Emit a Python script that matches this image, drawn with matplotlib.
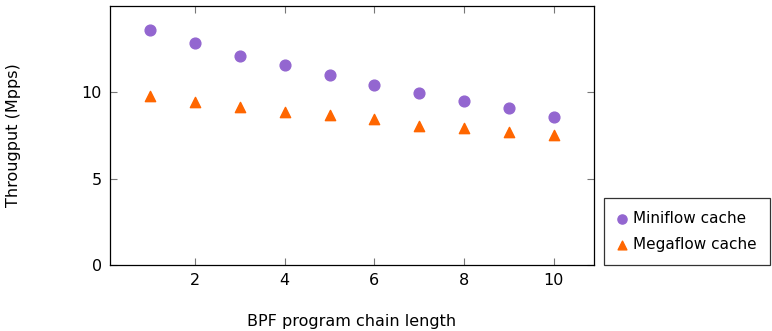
import matplotlib.pyplot as plt

chain_length = [1, 2, 3, 4, 5, 6, 7, 8, 9, 10]
miniflow = [13.6, 12.83, 12.1, 11.56, 10.98, 10.4, 9.96, 9.48, 9.08, 8.6]
megaflow = [9.8, 9.46, 9.17, 8.88, 8.71, 8.44, 8.05, 7.96, 7.71, 7.51]


def main():
    plt.rcParams['font.family'] = ['DejaVu Sans']
    fig = plt.figure(figsize=(7.72, 3.31), dpi=100)
    ax = fig.add_axes([0.1425, 0.1994, 0.6269, 0.7825])

    ax.scatter(chain_length, miniflow, s=60, marker='o', color='#9366d0',
               label='Miniflow cache', zorder=3)
    ax.scatter(chain_length, megaflow, s=55, marker='^', color='#ff6600',
               label='Megaflow cache', zorder=3)

    ax.set_xlim(0.1, 10.9)
    ax.set_ylim(0, 15)
    ax.set_xticks([2, 4, 6, 8, 10])
    ax.set_yticks([0, 5, 10])
    ax.tick_params(direction='in', top=True, right=True, labelsize=11.5,
                   length=5, color='#777777', pad=6)
    for s in ax.spines.values():
        s.set_linewidth(0.9)

    ax.set_xlabel('BPF program chain length', fontsize=11.5)
    ax.xaxis.set_label_coords(0.5, -0.19)
    ax.set_ylabel('Througput (Mpps)', fontsize=11.5)
    ax.yaxis.set_label_coords(-0.184, 0.5)

    leg = ax.legend(loc='lower left', bbox_to_anchor=(1.021, 0), borderaxespad=0,
                    fontsize=11, fancybox=False, edgecolor='black',
                    handletextpad=0.45, handlelength=0.6, borderpad=0.85,
                    labelspacing=0.75, markerscale=0.85)
    leg.get_frame().set_linewidth(0.9)

    fig.savefig('out.png', dpi=100)


if __name__ == "__main__":
    main()
